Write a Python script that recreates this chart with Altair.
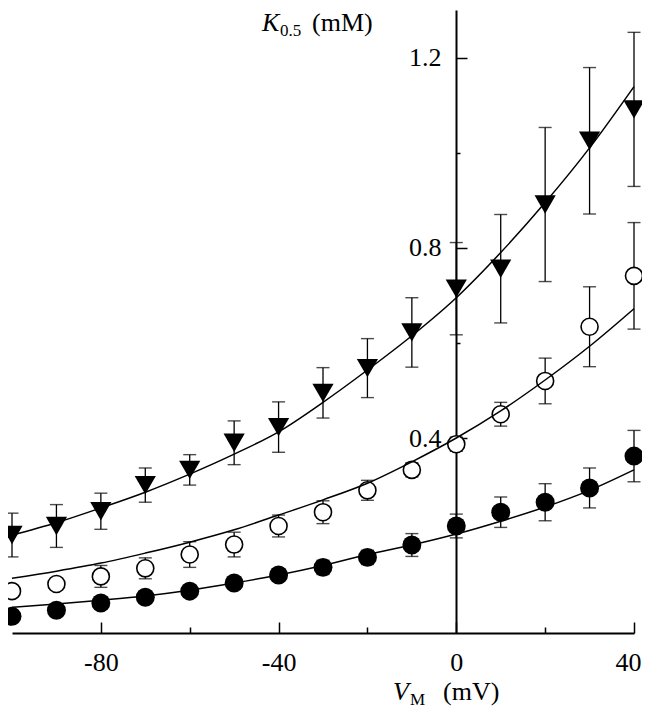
import altair as alt
import pandas as pd

# membrane potential (mV)
V = [-100, -90, -80, -70, -60, -50, -40, -30, -20, -10, 0, 10, 20, 30, 40]

# K0.5 (mM) and error (mM) for the three series
tri_K = [0.196, 0.215, 0.246, 0.301, 0.333, 0.390, 0.423, 0.495, 0.547, 0.622, 0.714, 0.756, 0.891, 1.025, 1.091]
tri_err = [0.046, 0.045, 0.038, 0.036, 0.032, 0.046, 0.053, 0.053, 0.062, 0.073, 0.097, 0.114, 0.162, 0.154, 0.162]
open_K = [0.078, 0.093, 0.109, 0.126, 0.155, 0.176, 0.215, 0.244, 0.290, 0.333, 0.387, 0.450, 0.520, 0.634, 0.741]
open_err = [0.010, 0.010, 0.023, 0.022, 0.027, 0.026, 0.023, 0.024, 0.021, 0.015, 0.015, 0.025, 0.048, 0.084, 0.112]
fill_K = [0.025, 0.038, 0.053, 0.065, 0.078, 0.095, 0.112, 0.128, 0.149, 0.175, 0.215, 0.244, 0.265, 0.295, 0.362]
fill_err = [0.010, 0.010, 0.010, 0.010, 0.010, 0.010, 0.012, 0.015, 0.015, 0.024, 0.025, 0.032, 0.039, 0.042, 0.054]

# fitted curves
fit_V = [-100, -90, -80, -70, -60, -50, -40, -30, -20, -10, 0, 10, 20, 30, 40]
tri_fit = [0.196, 0.222, 0.253, 0.286, 0.324, 0.366, 0.413, 0.475, 0.543, 0.615, 0.695, 0.790, 0.895, 1.010, 1.139]
open_fit = [0.105, 0.120, 0.137, 0.158, 0.181, 0.207, 0.238, 0.270, 0.305, 0.350, 0.400, 0.457, 0.522, 0.593, 0.672]
fill_fit = [0.044, 0.051, 0.059, 0.068, 0.080, 0.095, 0.112, 0.132, 0.155, 0.175, 0.198, 0.225, 0.255, 0.290, 0.333]

x_ticks_major = [-80, -40, 0, 40]
x_ticks_all = [-80, -60, -40, -20, 0, 20, 40]
y_ticks_major = [0.4, 0.8, 1.2]
y_ticks_all = [0.2, 0.4, 0.6, 0.8, 1.0, 1.2]

FONT = "Liberation Serif"
W, H = 622, 623

xs = alt.Scale(domain=[-100, 40], nice=False, zero=False)
ys = alt.Scale(domain=[-0.01, 1.3], nice=False, zero=False)


def pts_df(K, err):
    return pd.DataFrame({"V": V, "K": K,
                         "lo": [k - e for k, e in zip(K, err)],
                         "hi": [k + e for k, e in zip(K, err)]})


def fit_df(K):
    return pd.DataFrame({"V": fit_V, "K": K})


main_x_axis = alt.Axis(orient="bottom", values=x_ticks_major, ticks=False, tickSize=0,
                       grid=False, domainColor="black", domainWidth=2,
                       labelExpr="datum.value < 0 ? '-' + abs(datum.value) : '' + datum.value",
                       labelOffset={"condition": {"test": "datum.value >= 40", "value": -6},
                                    "value": 0},
                       labelFont=FONT, labelFontSize=26, labelColor="black",
                       labelPadding=16, labelFlush=False, title=None)
main_y_axis = alt.Axis(orient="left", offset=-444, values=y_ticks_major, format=".1f",
                       ticks=False, tickSize=0, grid=False, domainColor="black",
                       domainWidth=2, labelFont=FONT, labelFontSize=26,
                       labelColor="black", labelPadding=15, title=None)
tick_x_axis = alt.Axis(orient="top", offset=-H, values=x_ticks_all,
                       labels=False, domain=False, grid=False, title=None,
                       tickColor="black", tickWidth=1.5,
                       tickSize={"condition": {"test": "datum.value % 40 === 0", "value": 11},
                                 "value": 6})
tick_y_axis = alt.Axis(orient="right", offset=-178, values=y_ticks_all,
                       labels=False, domain=False, grid=False, title=None,
                       tickColor="black", tickWidth=1.5,
                       tickSize={"condition": {"test": "abs(datum.value / 0.4 - round(datum.value / 0.4)) < 0.01",
                                               "value": 11},
                                 "value": 4})

layers = []

# error bars (rules + caps)
for K, err in [(tri_K, tri_err), (open_K, open_err), (fill_K, fill_err)]:
    d = pts_df(K, err)
    layers.append(alt.Chart(d).mark_rule(color="black", strokeWidth=1.3).encode(
        x=alt.X("V:Q", scale=xs, axis=None),
        y=alt.Y("lo:Q", scale=ys, axis=None),
        y2="hi:Q"))
    for f in ["lo", "hi"]:
        layers.append(alt.Chart(d).mark_tick(color="black", orient="horizontal",
                                             size=13, thickness=1.4).encode(
            x=alt.X("V:Q", scale=xs, axis=None),
            y=alt.Y(f + ":Q", scale=ys, axis=None)))

# markers
layers.append(alt.Chart(pts_df(tri_K, tri_err)).mark_point(
    shape="triangle-down", filled=True, color="black", size=450, opacity=1).encode(
    x=alt.X("V:Q", scale=xs, axis=None), y=alt.Y("K:Q", scale=ys, axis=None)))
layers.append(alt.Chart(pts_df(open_K, open_err)).mark_point(
    shape="circle", filled=True, fill="white", stroke="black", strokeWidth=1.6,
    size=290, opacity=1).encode(
    x=alt.X("V:Q", scale=xs, axis=None), y=alt.Y("K:Q", scale=ys, axis=None)))
layers.append(alt.Chart(pts_df(fill_K, fill_err)).mark_point(
    shape="circle", filled=True, color="black", size=360, opacity=1).encode(
    x=alt.X("V:Q", scale=xs, axis=None), y=alt.Y("K:Q", scale=ys, axis=None)))

# fitted curves (carry the axes)
layers.append(alt.Chart(fit_df(fill_fit)).mark_line(
    color="black", strokeWidth=1.5, interpolate="monotone").encode(
    x=alt.X("V:Q", scale=xs, axis=main_x_axis),
    y=alt.Y("K:Q", scale=ys, axis=main_y_axis)))
layers.append(alt.Chart(fit_df(tri_fit)).mark_line(
    color="black", strokeWidth=1.5, interpolate="monotone").encode(
    x=alt.X("V:Q", scale=xs, axis=tick_x_axis),
    y=alt.Y("K:Q", scale=ys, axis=tick_y_axis)))
layers.append(alt.Chart(fit_df(open_fit)).mark_line(
    color="black", strokeWidth=1.5, interpolate="monotone").encode(
    x=alt.X("V:Q", scale=xs, axis=None),
    y=alt.Y("K:Q", scale=ys, axis=None)))


def txt(s, x, y, size=26, style="normal"):
    return alt.Chart(pd.DataFrame({"t": [s]})).mark_text(
        font=FONT, fontSize=size, fontStyle=style, color="black",
        align="left", baseline="alphabetic").encode(
        text="t:N", x=alt.value(x), y=alt.value(y))


# axis titles
layers += [
    txt("K", 250, 21, 26, "italic"),
    txt("0.5", 268, 26, 17),
    txt("(mM)", 300, 21, 26),
    txt("V", 381, 690, 26, "italic"),
    txt("M", 398, 695, 17),
    txt("(mV)", 431, 690, 26),
]

chart = alt.layer(*layers).resolve_axis(x="independent", y="independent").properties(
    width=W, height=H,
    autosize=alt.AutoSizeParams(type="none"),
    padding={"left": 4, "top": 2, "right": 8, "bottom": 79},
    background="white",
).configure_view(strokeWidth=0)

chart.save("out.html", embed_options={"renderer": "svg", "actions": False})
